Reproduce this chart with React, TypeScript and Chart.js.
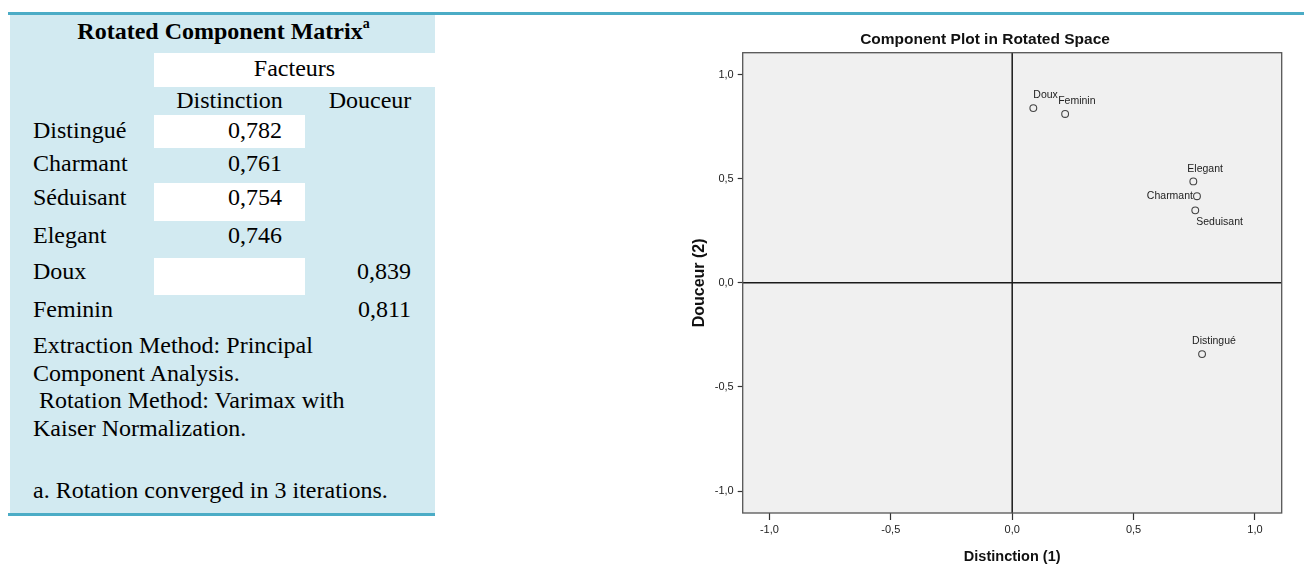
import React, { useEffect, useRef } from "react";
import { Chart, registerables } from "chart.js";

Chart.register(...registerables);

// ---------- chart data ----------
const pointNames = ["Doux", "Feminin", "Elegant", "Charmant", "Seduisant", "Distingué"];
const distinction = [0.087, 0.218, 0.746, 0.761, 0.754, 0.782];
const douceur = [0.839, 0.811, 0.487, 0.416, 0.348, -0.342];
const tickValues = [-1, -0.5, 0, 0.5, 1];
const chartTitle = "Component Plot in Rotated Space";
const xTitle = "Distinction (1)";
const yTitle = "Douceur (2)";

// ---------- table data ----------
const tableTitle = "Rotated Component Matrix";
const tableTitleNote = "a";
const groupHeader = "Facteurs";
const factorNames = ["Distinction", "Douceur"];
const rowNames = ["Distingué", "Charmant", "Séduisant", "Elegant", "Doux", "Feminin"];
const distinctionLoadings = ["0,782", "0,761", "0,754", "0,746", "", ""];
const douceurLoadings = ["", "", "", "", "0,839", "0,811"];
const notes = [
  "Extraction Method: Principal",
  "Component Analysis.",
  " Rotation Method: Varimax with",
  "Kaiser Normalization.",
];
const footnote = "a. Rotation converged in 3 iterations.";

// ---------- layout / style (page coordinates) ----------
const ROW_CENTERS = [130, 163, 197, 235, 271, 309];
const WHITE_ROWS: Record<number, [number, number]> = { 0: [115, 148], 2: [183, 221], 4: [258, 295] };
const NOTE_CENTERS = [345, 373, 400, 428];
const TEAL = "#4BACC6";
const LIGHT = "#D2EAF1";
const SERIF = "'Liberation Serif', 'Times New Roman', serif";
const SANS = "'Liberation Sans', Arial, sans-serif";

const LABEL_PLACEMENT: Record<string, { dx: number; dy: number; align: CanvasTextAlign }> = {
  Doux: { dx: 0, dy: -13, align: "left" },
  Feminin: { dx: -7, dy: -13, align: "left" },
  Elegant: { dx: -6, dy: -12, align: "left" },
  Charmant: { dx: -4, dy: 0, align: "right" },
  Seduisant: { dx: 1, dy: 11.5, align: "left" },
  "Distingué": { dx: -10, dy: -13, align: "left" },
};

const fmt = (v: number) => Number(v).toFixed(1).replace(".", ",").replace("-0,0", "0,0");

const plotPlugin = {
  id: "plotDecor",
  beforeDraw(chart: any) {
    const { ctx, chartArea: a } = chart;
    ctx.save();
    ctx.fillStyle = "#f0f0f0";
    ctx.fillRect(a.left, a.top, a.right - a.left, a.bottom - a.top);
    ctx.restore();
  },
  beforeDatasetsDraw(chart: any) {
    const { ctx, chartArea: a, scales } = chart;
    const x0 = scales.x.getPixelForValue(0);
    const y0 = scales.y.getPixelForValue(0);
    ctx.save();
    ctx.strokeStyle = "#1a1a1a";
    ctx.lineWidth = 1.5;
    ctx.beginPath();
    ctx.moveTo(x0, a.top);
    ctx.lineTo(x0, a.bottom);
    ctx.moveTo(a.left, y0);
    ctx.lineTo(a.right, y0);
    ctx.stroke();
    ctx.strokeStyle = "#555";
    ctx.lineWidth = 1.3;
    ctx.strokeRect(a.left, a.top, a.right - a.left, a.bottom - a.top);
    ctx.restore();
  },
  afterDatasetsDraw(chart: any) {
    const { ctx } = chart;
    const meta = chart.getDatasetMeta(0);
    ctx.save();
    ctx.font = `10.5px ${SANS}`;
    ctx.fillStyle = "#222";
    ctx.textBaseline = "middle";
    meta.data.forEach((pt: any, i: number) => {
      const name = pointNames[i];
      const p = LABEL_PLACEMENT[name] || { dx: 0, dy: -12, align: "left" };
      ctx.textAlign = p.align;
      ctx.fillText(name, pt.x + p.dx, pt.y + p.dy);
    });
    ctx.restore();
  },
};

function ComponentPlot() {
  const ref = useRef<HTMLCanvasElement>(null);
  useEffect(() => {
    if (!ref.current) return;
    const chart = new Chart(ref.current, {
      type: "scatter",
      data: {
        datasets: [
          {
            label: "loadings",
            data: pointNames.map((_, i) => ({ x: distinction[i], y: douceur[i] })),
            pointRadius: 3.4,
            pointBorderWidth: 1.1,
            pointBorderColor: "#444",
            pointBackgroundColor: "rgba(0,0,0,0)",
            showLine: false,
          },
        ],
      },
      options: {
        responsive: false,
        animation: false,
        events: [],
        layout: { padding: { left: 8.3, right: 8.3, top: 0, bottom: 0 } },
        plugins: {
          legend: { display: false },
          tooltip: { enabled: false },
          title: {
            display: true,
            text: chartTitle,
            color: "#111",
            font: { family: SANS, size: 15.5, weight: "bold", lineHeight: 1.2 },
            padding: { top: 14, bottom: 4.1 },
          },
        },
        scales: {
          x: {
            type: "linear",
            min: -1.11,
            max: 1.11,
            afterBuildTicks: (s: any) => {
              s.ticks = tickValues.map((v) => ({ value: v }));
            },
            afterFit: (s: any) => {
              s.height = 68;
            },
            ticks: {
              callback: (v: any) => fmt(v),
              font: { family: SANS, size: 11 },
              color: "#222",
              padding: 3,
              maxRotation: 0,
              autoSkip: false,
            },
            grid: { drawOnChartArea: false, drawTicks: true, tickLength: 7, tickColor: "#333", tickWidth: 1.2 },
            border: { display: false },
            title: {
              display: true,
              text: xTitle,
              color: "#111",
              font: { family: SANS, size: 14.5, weight: "bold", lineHeight: 1.2 },
              padding: { top: 0, bottom: 15.3 },
            },
          },
          y: {
            type: "linear",
            min: -1.105,
            max: 1.105,
            afterBuildTicks: (s: any) => {
              s.ticks = tickValues.map((v) => ({ value: v }));
            },
            afterFit: (s: any) => {
              s.width = 54.4;
            },
            ticks: {
              callback: (v: any) => fmt(v),
              font: { family: SANS, size: 11 },
              color: "#222",
              padding: 4,
              autoSkip: false,
            },
            grid: { drawOnChartArea: false, drawTicks: true, tickLength: 5, tickColor: "#333", tickWidth: 1.2 },
            border: { display: false },
            title: {
              display: true,
              text: yTitle,
              color: "#111",
              font: { family: SANS, size: 16, weight: "bold", lineHeight: 1.2 },
              padding: { top: 2, bottom: 0 },
            },
          },
        },
      } as any,
      plugins: [plotPlugin],
    });
    return () => chart.destroy();
  }, []);
  return (
    <canvas
      ref={ref}
      width={610}
      height={565}
      style={{ position: "absolute", left: 680 - 8, top: 16 - 8, width: 610, height: 565 }}
    />
  );
}

// helpers: page coords -> relative (body margin 8)
const P = (x: number) => x - 8;

function Txt(props: {
  x: number;
  cy: number;
  text: string;
  align?: "left" | "center" | "right";
  bold?: boolean;
  children?: React.ReactNode;
}) {
  const { x, cy, text, align = "left", bold = false } = props;
  const W = 400;
  const left = align === "left" ? x : align === "center" ? x - W / 2 : x - W;
  return (
    <div
      style={{
        position: "absolute",
        left: P(left),
        top: P(cy - 14),
        width: W,
        height: 28,
        lineHeight: "28px",
        fontSize: 24,
        fontFamily: SERIF,
        fontWeight: bold ? "bold" : "normal",
        textAlign: align,
        whiteSpace: "pre",
        color: "#000",
      }}
    >
      {text}
      {props.children}
    </div>
  );
}

function Box(props: { x1: number; y1: number; x2: number; y2: number; color: string }) {
  const { x1, y1, x2, y2, color } = props;
  return (
    <div
      style={{
        position: "absolute",
        left: P(x1),
        top: P(y1),
        width: x2 - x1,
        height: y2 - y1,
        background: color,
      }}
    />
  );
}

export default function App() {
  return (
    <div style={{ position: "relative", width: 1296, height: 570, overflow: "visible" }}>
      {/* top rule */}
      <Box x1={0} y1={12} x2={1312} y2={15} color={TEAL} />
      {/* table background */}
      <Box x1={10} y1={15} x2={435} y2={513} color={LIGHT} />
      {/* bottom rule */}
      <Box x1={8} y1={513} x2={435} y2={516} color={TEAL} />
      {/* white cells */}
      <Box x1={154} y1={53} x2={435} y2={87} color="#fff" />
      {Object.entries(WHITE_ROWS).map(([k, [a, b]]) => (
        <Box key={k} x1={154} y1={a} x2={305} y2={b} color="#fff" />
      ))}
      {/* title */}
      <Txt x={223.5} cy={31} text={tableTitle} align="center" bold>
        <span style={{ fontSize: 14, position: "relative", top: -11, lineHeight: 0 }}>{tableTitleNote}</span>
      </Txt>
      <Txt x={294.5} cy={68} text={groupHeader} align="center" />
      <Txt x={229.5} cy={100} text={factorNames[0]} align="center" />
      <Txt x={370} cy={100} text={factorNames[1]} align="center" />
      {rowNames.map((r, i) => (
        <React.Fragment key={r}>
          <Txt x={33} cy={ROW_CENTERS[i]} text={r} />
          {distinctionLoadings[i] ? <Txt x={282} cy={ROW_CENTERS[i]} text={distinctionLoadings[i]} align="right" /> : null}
          {douceurLoadings[i] ? <Txt x={411} cy={ROW_CENTERS[i]} text={douceurLoadings[i]} align="right" /> : null}
        </React.Fragment>
      ))}
      {notes.map((n, i) => (
        <Txt key={i} x={33} cy={NOTE_CENTERS[i]} text={n} />
      ))}
      <Txt x={33} cy={490} text={footnote} />
      <ComponentPlot />
    </div>
  );
}
